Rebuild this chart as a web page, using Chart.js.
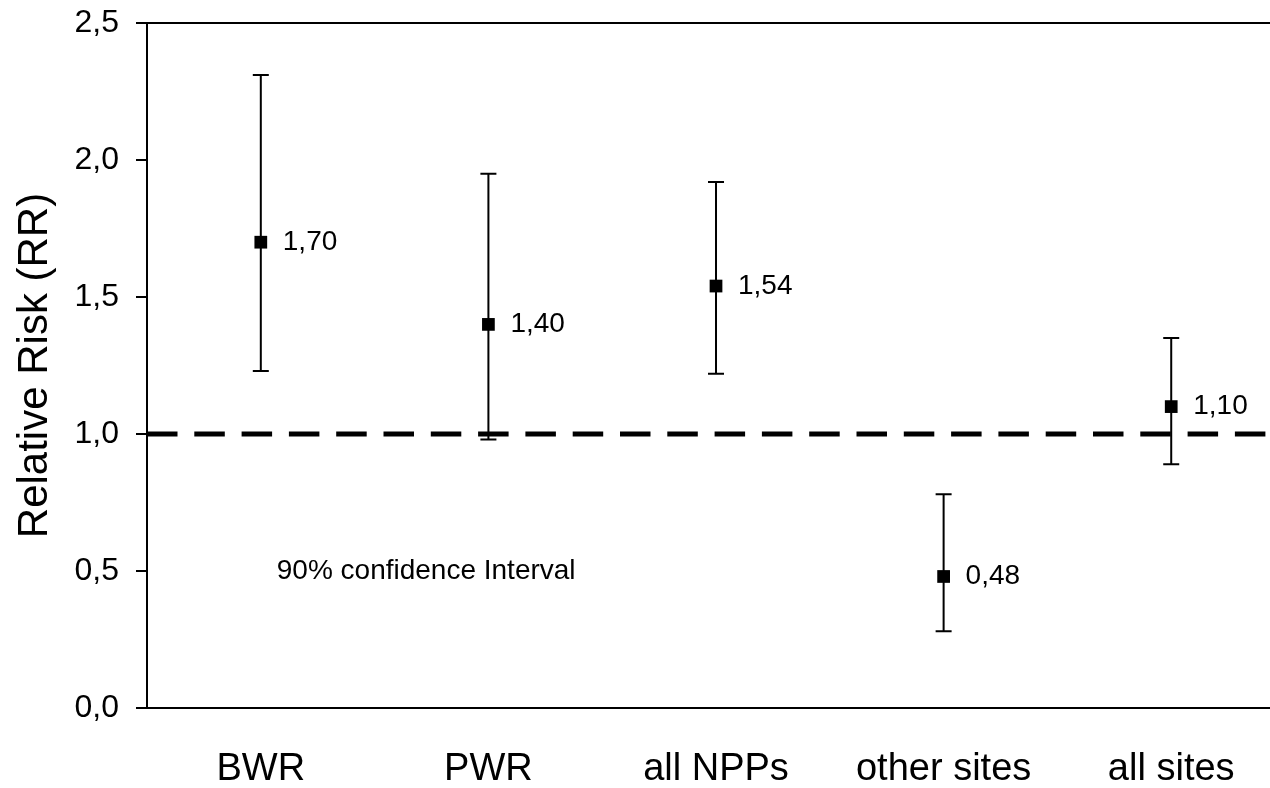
<!DOCTYPE html>
<html>
<head>
<meta charset="utf-8">
<script src="https://cdn.jsdelivr.net/npm/chart.js@4.4.1/dist/chart.umd.min.js"></script>
<style>
  html, body { margin: 0; padding: 0; background: #fff; overflow: hidden; }
</style>
</head>
<body>
<canvas id="chart" width="1270" height="788"></canvas>
<script>
// data
const categories = ["BWR", "PWR", "all NPPs", "other sites", "all sites"];
const rr = [1.70, 1.40, 1.54, 0.48, 1.10];
const ciLow = [1.23, 0.98, 1.22, 0.28, 0.89];
const ciHigh = [2.31, 1.95, 1.92, 0.78, 1.35];
const yTicks = [0, 0.5, 1.0, 1.5, 2.0, 2.5];
const refLine = 1.0;
const noteText = "90% confidence Interval";
const notePos = { x: 0.07, y: 0.5 };

const FONT = "'Liberation Sans', Arial, sans-serif";
const X_MIN = -0.5;
const X_MAX = 4.434; // the plot runs past the right edge of the picture

const comma = (v, d) => v.toFixed(d).replace(".", ",");

// no extra padding from the scales, the plot area is set by hand
const noPad = (s) => {
  s.paddingLeft = 0;
  s.paddingRight = 0;
  s.paddingTop = 0;
  s.paddingBottom = 0;
};

/**
 * Error bars + value labels + note text
 */
const errorBars = {
  id: "errorBars",
  beforeDatasetsDraw(chart) {
    const { ctx, scales: { x, y } } = chart;
    ctx.save();
    ctx.strokeStyle = "#000";
    ctx.lineWidth = 2;
    rr.forEach((v, i) => {
      const px = x.getPixelForValue(i);
      const top = y.getPixelForValue(ciHigh[i]);
      const bot = y.getPixelForValue(ciLow[i]);
      ctx.beginPath();
      ctx.moveTo(px, top);
      ctx.lineTo(px, bot);
      ctx.moveTo(px - 8, top);
      ctx.lineTo(px + 8, top);
      ctx.moveTo(px - 8, bot);
      ctx.lineTo(px + 8, bot);
      ctx.stroke();
    });
    ctx.restore();
  },
  afterDraw(chart) {
    const { ctx, scales: { x, y } } = chart;
    ctx.save();
    ctx.fillStyle = "#000";
    ctx.font = "28px " + FONT;
    ctx.textAlign = "left";
    ctx.textBaseline = "middle";
    rr.forEach((v, i) => {
      ctx.fillText(comma(v, 2), x.getPixelForValue(i) + 22, y.getPixelForValue(v));
    });
    ctx.fillText(noteText, x.getPixelForValue(notePos.x), y.getPixelForValue(notePos.y));
    ctx.restore();
  },
};

new Chart(document.getElementById("chart").getContext("2d"), {
  type: "scatter",
  data: {
    datasets: [
      {
        type: "line",
        data: [{ x: X_MIN, y: refLine }, { x: X_MAX, y: refLine }],
        borderColor: "#000",
        borderWidth: 5,
        borderDash: [30.5, 16.8],
        pointRadius: 0,
      },
      {
        data: rr.map((v, i) => ({ x: i, y: v })),
        pointStyle: "rect",
        pointRadius: 9,
        backgroundColor: "#000",
        borderColor: "#000",
        borderWidth: 0,
      },
    ],
  },
  options: {
    responsive: false,
    maintainAspectRatio: false,
    animation: false,
    layout: { padding: 0, autoPadding: false },
    scales: {
      x: {
        type: "linear",
        min: X_MIN,
        max: X_MAX,
        afterBuildTicks: (s) => { s.ticks = categories.map((c, i) => ({ value: i })); },
        afterFit: (s) => { s.height = 80; noPad(s); },
        grid: { display: false },
        border: { display: true, color: "#000", width: 2 },
        ticks: {
          padding: 31,
          color: "#000",
          font: { family: FONT, size: 38 },
          maxRotation: 0,
          autoSkip: false,
          callback: (v) => categories[Math.round(v)],
        },
      },
      x2: {
        type: "linear",
        position: "top",
        min: X_MIN,
        max: X_MAX,
        afterFit: (s) => { s.height = 23; noPad(s); },
        grid: { display: false },
        border: { display: true, color: "#000", width: 2 },
        ticks: { display: false },
      },
      y: {
        min: 0,
        max: 2.5,
        afterBuildTicks: (s) => { s.ticks = yTicks.map((v) => ({ value: v })); },
        afterFit: (s) => { s.width = 147; noPad(s); },
        grid: {
          display: true,
          drawOnChartArea: false,
          drawTicks: true,
          tickLength: 11,
          color: "#000",
          lineWidth: 2,
        },
        border: { display: true, color: "#000", width: 2 },
        ticks: {
          padding: 17,
          color: "#000",
          font: { family: FONT, size: 32 },
          callback: (v) => comma(v, 1),
        },
        title: {
          display: true,
          text: "Relative Risk (RR)",
          color: "#000",
          font: { family: FONT, size: 42 },
          padding: { top: 10, bottom: 0 },
        },
      },
    },
    plugins: {
      legend: { display: false },
      tooltip: { enabled: false },
    },
  },
  plugins: [errorBars],
});
</script>
</body>
</html>
